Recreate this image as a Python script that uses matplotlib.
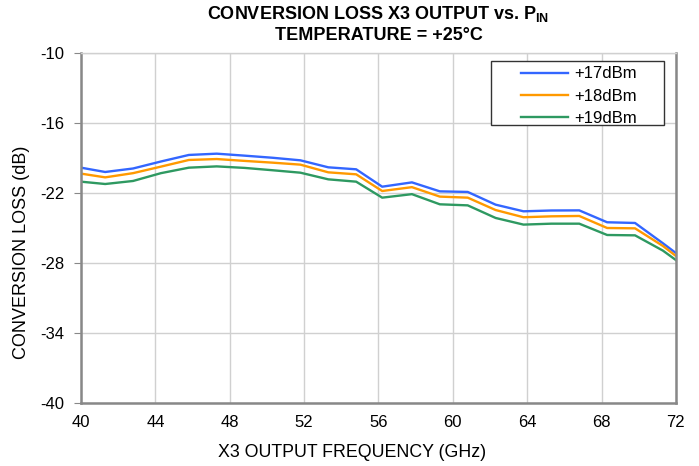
import matplotlib
matplotlib.use("Agg")
import matplotlib.pyplot as plt
from matplotlib.patches import Rectangle

plt.rcParams['font.family'] = ['Liberation Sans', 'DejaVu Sans']
plt.rcParams['mathtext.fontset'] = 'custom'
plt.rcParams['mathtext.rm'] = 'Liberation Sans'
plt.rcParams['mathtext.bf'] = 'Liberation Sans:bold'
plt.rcParams['axes.unicode_minus'] = False

# Data
freq = [40, 41.3, 42.8, 44.3, 45.8, 47.3, 48.8, 50.3, 51.8, 53.3, 54.8, 56.2,
        57.8, 59.3, 60.8, 62.3, 63.8, 65.3, 66.8, 68.3, 69.8, 71.3, 72]
p17 = [-19.83, -20.2, -19.9, -19.3, -18.74, -18.63, -18.8, -18.98, -19.2, -19.8, -19.97, -21.46,
       -21.09, -21.86, -21.91, -23.0, -23.57, -23.5, -23.49, -24.51, -24.57, -26.31, -27.15]
p18 = [-20.34, -20.66, -20.3, -19.74, -19.17, -19.09, -19.25, -19.4, -19.57, -20.23, -20.4, -21.83,
       -21.5, -22.31, -22.4, -23.46, -24.08, -24.0, -23.97, -25.0, -25.03, -26.54, -27.4]
p19 = [-21.03, -21.23, -20.97, -20.3, -19.83, -19.72, -19.85, -20.05, -20.26, -20.83, -21.03, -22.4,
       -22.1, -22.97, -23.06, -24.14, -24.71, -24.63, -24.63, -25.6, -25.63, -26.94, -27.75]
labels = ['+17dBm', '+18dBm', '+19dBm']
colors = ['#3366FF', '#FF9900', '#2E9961']

fig = plt.figure(figsize=(6.99, 4.66), dpi=100)
ax = fig.add_axes([0.1159, 0.1352, 0.8511, 0.7511])

for y, lab, c in zip([p17, p18, p19], labels, colors):
    ax.plot(freq, y, color=c, lw=1.7, label=lab)

ax.set_xlim(40, 72)
ax.set_ylim(-40, -10)
ax.set_xticks(range(40, 73, 4))
ax.set_yticks(range(-40, -9, 6))
ax.grid(True, color='#D0D0D0', lw=1.0)
ax.set_axisbelow(True)

for side in ['left', 'bottom', 'right']:
    ax.spines[side].set_color('#888888')
    ax.spines[side].set_linewidth(1.8)
ax.spines['top'].set_color('#D0D0D0')
ax.spines['top'].set_linewidth(1.0)

ax.tick_params(axis='y', direction='out', length=5, color='#888888', labelsize=12, pad=7)
ax.tick_params(axis='x', length=0, labelsize=12, pad=9)

ax.set_xlabel('X3 OUTPUT FREQUENCY (GHz)', fontsize=12.8, labelpad=10)
ax.set_ylabel('CONVERSION LOSS (dB)', fontsize=13, labelpad=7)
ax.xaxis.label.set_x(0.455)
ax.yaxis.label.set_y(0.431)

ax.set_title('CONVERSION LOSS X3 OUTPUT vs. P$_{\\mathbf{IN}}$\nTEMPERATURE = +25\u00b0C',
             fontsize=13, fontweight='bold', pad=9, linespacing=1.25)

# legend box drawn separately so it can be wider than its content
ax.add_patch(Rectangle((0.689, 0.794), 0.291, 0.183, transform=ax.transAxes,
                       facecolor='white', edgecolor='#333333', lw=1.0, zorder=4))
leg = ax.legend(loc='center left', bbox_to_anchor=(0.7395, 0.877), fontsize=12,
                frameon=False, handlelength=2.82, labelspacing=0.43, borderpad=0.0,
                handletextpad=0.35, borderaxespad=0.0)
leg.set_zorder(5)

fig.savefig('out.png', dpi=100)
